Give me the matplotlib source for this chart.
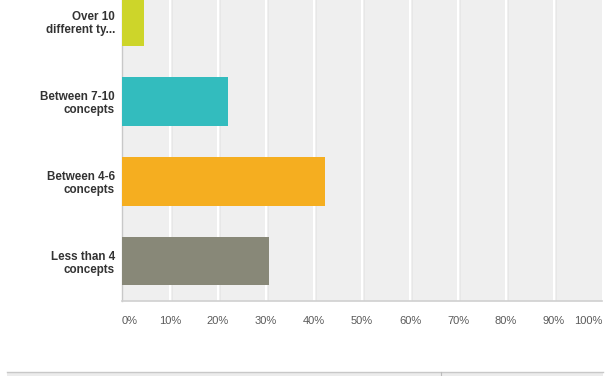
import matplotlib
matplotlib.use("Agg")
import matplotlib.pyplot as plt
from matplotlib.patches import Rectangle
from matplotlib.lines import Line2D

categories = ["Over 10\ndifferent ty...", "Between 7-10\nconcepts", "Between 4-6\nconcepts", "Less than 4\nconcepts"]
values = [4.6, 22.0, 42.3, 30.6]
colors = ["#cdd52a", "#33bcbe", "#f5ae20", "#888878"]
tick_values = [0, 10, 20, 30, 40, 50, 60, 70, 80, 90, 100]
tick_labels = ["0%", "10%", "20%", "30%", "40%", "50%", "60%", "70%", "80%", "90%", "100%"]

W, H = 616, 376
fig = plt.figure(figsize=(W / 100, H / 100), dpi=100)
fig.patch.set_facecolor("white")

x0, x1 = 122, 602
ybot, ytop = 301, -18.5
ax = fig.add_axes([x0 / W, (H - ybot) / H, (x1 - x0) / W, (ybot - ytop) / H])
ax.set_facecolor("#efefef")

ypos = list(range(len(categories)))
ax.barh(ypos, values, height=0.61, color=colors, zorder=3)
ax.set_xlim(0, 100)
ax.set_ylim(len(categories) - 0.5, -0.5)

for t in tick_values[1:-1]:
    ax.axvline(t, color="white", lw=1.5, zorder=1)
    ax.axvline(t + 0.35, color="#e6e6e6", lw=0.6, zorder=1)

ax.set_yticks(ypos)
ax.set_yticklabels(categories, fontsize=8.4, fontweight="bold", color="#333333",
                   family=["Liberation Sans", "DejaVu Sans"], linespacing=1.12)
for lab in ax.get_yticklabels():
    lab.set_multialignment("right")

ax.set_xticks(tick_values)
ax.set_xticklabels(tick_labels, fontsize=8, color="#5a5a5a", family=["Liberation Sans", "DejaVu Sans"])
labs = ax.get_xticklabels()
labs[0].set_ha("left")
labs[-1].set_ha("right")
ax.tick_params(axis="both", length=0)
ax.tick_params(axis="x", pad=11)
ax.tick_params(axis="y", pad=5)

for s in ["top", "right"]:
    ax.spines[s].set_visible(False)
ax.spines["left"].set_color("#c8c8c8")
ax.spines["left"].set_linewidth(1.0)
ax.spines["bottom"].set_color("#d0d0d0")
ax.spines["bottom"].set_linewidth(1.2)

# bottom strip
fig.add_artist(Rectangle((7 / W, 0), (603 - 7) / W, (H - 372) / H, transform=fig.transFigure,
                         facecolor="#ececec", edgecolor="none"))
fig.add_artist(Line2D([7 / W, 603 / W], [(H - 372) / H] * 2, transform=fig.transFigure,
                      color="#c8c8c8", lw=1.0))
fig.add_artist(Line2D([441 / W, 441 / W], [0, (H - 372) / H], transform=fig.transFigure,
                      color="#bbbbbb", lw=0.8))

fig.savefig("out.png", dpi=100)
